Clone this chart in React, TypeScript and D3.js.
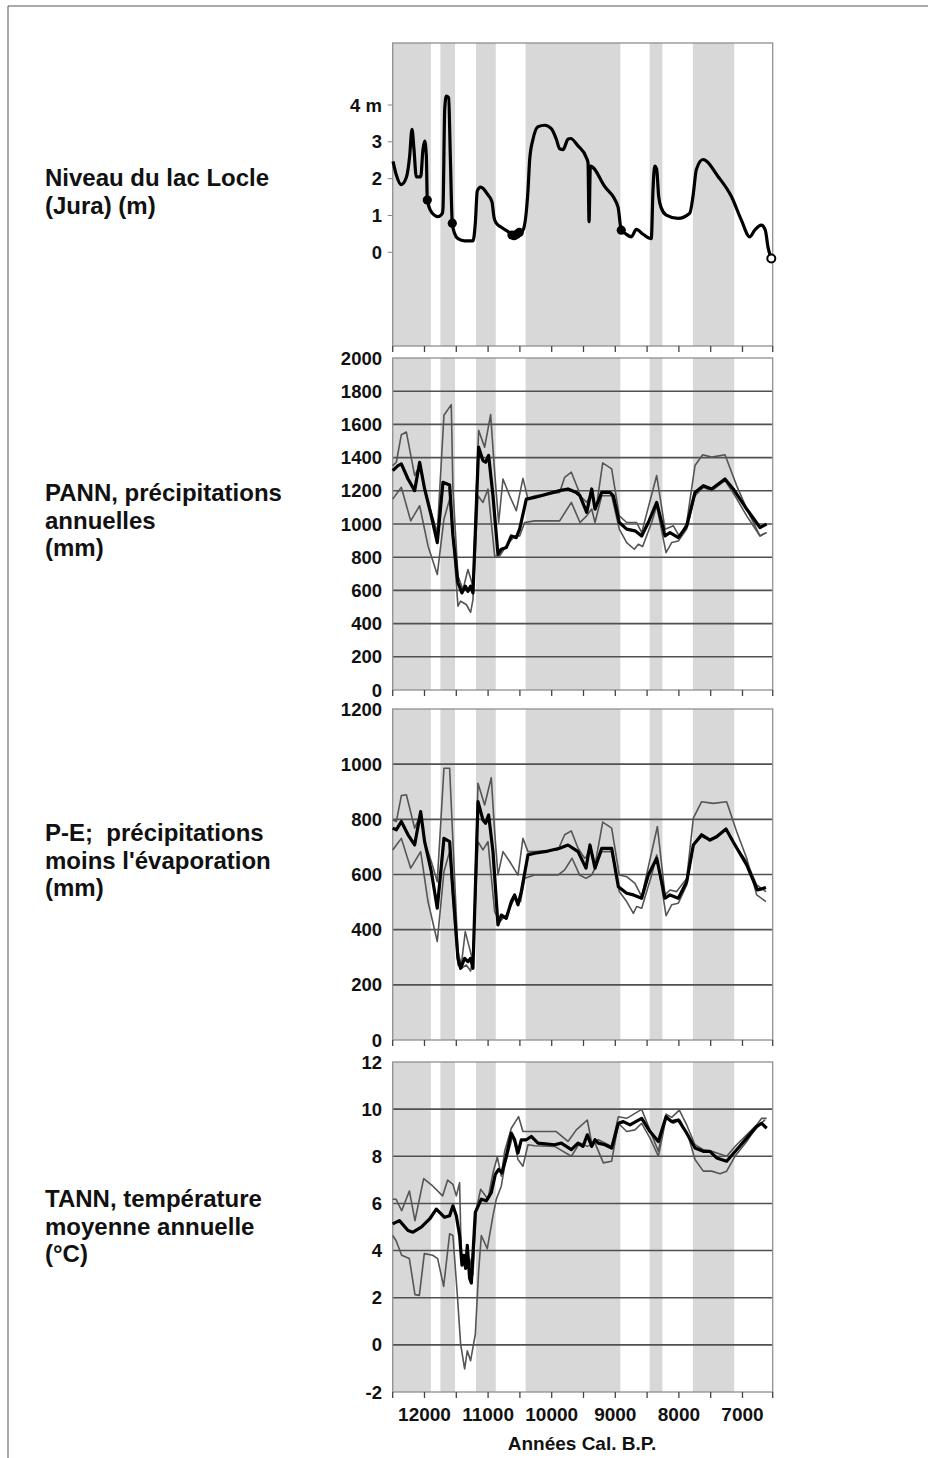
import React from 'react';
import * as d3 from 'd3';

// ---------- data ----------
const bandRanges: [number, number][] = [
  [12500, 11900], [11750, 11520], [11190, 10880], [10410, 8920], [8460, 8260], [7780, 7130],
];
const xTickLabels = [12000, 11000, 10000, 9000, 8000, 7000];
const xTickMinor = [12500, 12000, 11500, 11000, 10500, 10000, 9500, 9000, 8500, 8000, 7500, 7000, 6525];

const lakeTicks = [0, 1, 2, 3, 4];
const lakeTickLabels = ['0', '1', '2', '3', '4 m'];

const lakeLevel: [number, number][] = [
  [12495, 2.47], [12443, 2.1], [12365, 1.84], [12286, 2.03], [12233, 2.62], [12197, 3.34], [12165, 2.79],
  [12129, 2.05], [12060, 2.05], [12024, 2.79], [11997, 3.02], [11971, 2.61], [11956, 1.42], [11893, 1.1],
  [11788, 0.97], [11720, 1.06], [11709, 1.2], [11682, 3.89], [11657, 4.24], [11620, 4.2], [11594, 2.6],
  [11563, 0.79], [11526, 0.51], [11474, 0.37], [11369, 0.31], [11238, 0.31], [11201, 0.79], [11170, 1.67],
  [11117, 1.77], [11002, 1.56], [10939, 1.37], [10908, 0.96], [10871, 0.79], [10792, 0.68], [10687, 0.56],
  [10609, 0.47], [10530, 0.49], [10451, 0.6], [10372, 1.7], [10346, 2.52], [10294, 3.07], [10216, 3.41],
  [10110, 3.45], [10006, 3.36], [9927, 3.07], [9874, 2.81], [9822, 2.79], [9744, 3.07], [9702, 3.09],
  [9586, 2.89], [9455, 2.57], [9429, 2.43], [9413, 0.83], [9392, 2.34], [9167, 1.79], [8958, 1.24],
  [8906, 0.6], [8843, 0.51], [8748, 0.42], [8670, 0.62], [8564, 0.49], [8434, 0.37], [8407, 1.7],
  [8381, 2.34], [8349, 2.25], [8318, 1.52], [8276, 1.2], [8198, 1.01], [8014, 0.92], [7830, 1.06],
  [7778, 1.52], [7725, 2.25], [7621, 2.52], [7385, 2.06], [7176, 1.52], [7019, 0.88], [6887, 0.42],
  [6809, 0.6], [6704, 0.74], [6641, 0.6], [6599, 0.14], [6547, -0.17],
];
const lakeDots: [number, number][] = [
  [11956, 1.42], [11563, 0.79], [10625, 0.47], [10590, 0.45], [10550, 0.49], [10510, 0.54], [8906, 0.6],
];
const lakeEnd: [number, number] = [6547, -0.17];

// PANN (mm)
const pannTicks = [0, 200, 400, 600, 800, 1000, 1200, 1400, 1600, 1800, 2000];
const pannMean: [number, number][] = [
  [12500, 1322], [12416, 1352], [12364, 1362], [12259, 1271], [12155, 1201], [12076, 1372], [11998, 1211],
  [11893, 1049], [11799, 888], [11710, 1251], [11605, 1235], [11553, 928], [11474, 646], [11411, 585],
  [11359, 626], [11317, 595], [11275, 626], [11238, 585], [11149, 1463], [11081, 1382], [11039, 1372],
  [10992, 1413], [10923, 1170], [10845, 817], [10792, 848], [10714, 858], [10635, 928], [10557, 918],
  [10504, 969], [10399, 1150], [10268, 1160], [9875, 1201], [9744, 1211], [9613, 1190], [9555, 1170],
  [9450, 1070], [9371, 1211], [9319, 1090], [9214, 1190], [9083, 1190], [9031, 1170], [8937, 1009],
  [8821, 969], [8690, 959], [8585, 928], [8481, 1009], [8349, 1130], [8218, 928], [8140, 948],
  [8009, 918], [7877, 989], [7747, 1190], [7616, 1231], [7484, 1211], [7275, 1271], [7145, 1211],
  [6934, 1090], [6725, 979], [6620, 999],
];
const pannHigh: [number, number][] = [
  [12500, 1352], [12443, 1372], [12364, 1538], [12285, 1554], [12155, 1292], [12076, 1352], [11998, 1211],
  [11893, 1070], [11799, 948], [11694, 1655], [11579, 1719], [11553, 1211], [11474, 686], [11395, 605],
  [11317, 726], [11238, 626], [11149, 1564], [11054, 1463], [10960, 1659], [10897, 1312], [10834, 1009],
  [10766, 1271], [10661, 1170], [10557, 1080], [10452, 1275], [10373, 1150], [10268, 1170], [9875, 1190],
  [9796, 1281], [9691, 1312], [9586, 1211], [9555, 1170], [9450, 1130], [9371, 1190], [9302, 1090],
  [9198, 1368], [9057, 1332], [8937, 1049], [8821, 1009], [8664, 1009], [8585, 948], [8349, 1292],
  [8218, 969], [8087, 989], [7982, 918], [7877, 1009], [7747, 1352], [7626, 1417], [7484, 1403],
  [7275, 1417], [7092, 1231], [6908, 1070], [6725, 928], [6631, 948],
];
const pannLow: [number, number][] = [
  [12500, 1150], [12364, 1221], [12217, 1019], [12076, 1110], [11945, 868], [11799, 696], [11694, 1029],
  [11605, 1150], [11553, 928], [11474, 505], [11432, 535], [11343, 515], [11275, 468], [11238, 545],
  [11159, 1170], [11081, 1130], [11002, 1211], [10897, 807], [10818, 807], [10714, 868], [10583, 928],
  [10504, 928], [10425, 1009], [10268, 1019], [9875, 1019], [9691, 1130], [9555, 1009], [9450, 1049],
  [9371, 1090], [9319, 1009], [9214, 1170], [9057, 1170], [8937, 969], [8821, 888], [8700, 848],
  [8638, 878], [8570, 864], [8428, 1009], [8349, 1110], [8202, 827], [8113, 888], [8009, 898],
  [7877, 969], [7747, 1170], [7616, 1221], [7484, 1201], [7275, 1261], [7118, 1170], [6934, 1049],
  [6725, 928], [6620, 948],
];

// P-E (mm)
const peTicks = [0, 200, 400, 600, 800, 1000, 1200];
const peMean: [number, number][] = [
  [12500, 768], [12443, 762], [12364, 792], [12259, 744], [12155, 707], [12060, 828], [11998, 719],
  [11893, 611], [11799, 478], [11694, 731], [11605, 719], [11553, 538], [11474, 296], [11432, 260],
  [11369, 296], [11317, 284], [11275, 296], [11238, 260], [11159, 864], [11081, 798], [11039, 786],
  [10992, 816], [10923, 683], [10845, 417], [10792, 453], [10714, 441], [10635, 502], [10583, 526],
  [10530, 490], [10478, 538], [10373, 671], [10268, 677], [10059, 685], [9875, 695], [9744, 707],
  [9586, 683], [9461, 623], [9398, 707], [9319, 623], [9214, 695], [9057, 695], [8952, 556],
  [8821, 532], [8716, 526], [8585, 514], [8481, 598], [8349, 659], [8218, 514], [8140, 526],
  [8009, 514], [7877, 574], [7773, 707], [7642, 744], [7511, 725], [7406, 737], [7259, 765],
  [7118, 707], [6934, 635], [6767, 544], [6699, 548], [6631, 553],
];
const peHigh: [number, number][] = [
  [12500, 798], [12443, 792], [12364, 886], [12285, 889], [12155, 768], [12060, 816], [11998, 719],
  [11893, 647], [11799, 574], [11694, 985], [11605, 985], [11553, 719], [11474, 320], [11421, 272],
  [11359, 393], [11291, 332], [11238, 284], [11159, 931], [11054, 852], [10950, 951], [10897, 756],
  [10845, 598], [10766, 683], [10661, 647], [10530, 598], [10452, 731], [10373, 683], [10268, 683],
  [9901, 689], [9796, 744], [9691, 758], [9586, 695], [9482, 659], [9450, 665], [9398, 707],
  [9319, 635], [9198, 790], [9057, 768], [8937, 598], [8821, 592], [8690, 568], [8585, 520],
  [8338, 774], [8218, 526], [8140, 544], [8035, 538], [7877, 586], [7773, 804], [7642, 864],
  [7459, 858], [7249, 864], [7092, 756], [6934, 659], [6777, 526], [6631, 502],
];
const peLow: [number, number][] = [
  [12500, 689], [12364, 731], [12217, 623], [12060, 683], [11945, 502], [11799, 357], [11694, 611],
  [11605, 683], [11553, 514], [11474, 272], [11421, 260], [11343, 272], [11275, 250], [11238, 296],
  [11159, 719], [11081, 689], [11002, 719], [10897, 465], [10818, 429], [10714, 453], [10583, 514],
  [10489, 502], [10425, 586], [10268, 598], [9901, 598], [9796, 617], [9680, 659], [9560, 598],
  [9461, 586], [9371, 598], [9319, 623], [9214, 683], [9057, 683], [8937, 538], [8821, 502],
  [8716, 459], [8664, 484], [8585, 478], [8428, 598], [8349, 671], [8202, 451], [8113, 490],
  [8009, 496], [7877, 562], [7773, 707], [7642, 737], [7511, 725], [7259, 762], [7118, 707],
  [6934, 647], [6777, 562], [6631, 538],
];

// TANN (°C)
const tannTicks = [-2, 0, 2, 4, 6, 8, 10, 12];
const tannMean: [number, number][] = [
  [12500, 5.13], [12395, 5.27], [12259, 4.85], [12181, 4.78], [12050, 4.99], [11919, 5.34], [11814, 5.76],
  [11684, 5.41], [11605, 5.48], [11553, 5.9], [11500, 5.48], [11448, 4.64], [11411, 3.38], [11380, 3.8],
  [11353, 3.24], [11327, 4.22], [11291, 2.83], [11264, 2.62], [11201, 5.62], [11107, 6.18], [11028, 6.11],
  [10950, 6.46], [10887, 7.23], [10834, 7.44], [10782, 7.3], [10714, 8.0], [10635, 8.98], [10583, 8.7],
  [10530, 8.14], [10478, 8.7], [10399, 8.7], [10321, 8.84], [10216, 8.56], [9954, 8.49], [9849, 8.56],
  [9691, 8.28], [9586, 8.56], [9508, 8.42], [9440, 8.91], [9371, 8.42], [9319, 8.7], [9267, 8.56],
  [9162, 8.49], [9057, 8.35], [8952, 9.4], [8874, 9.47], [8769, 9.33], [8585, 9.61], [8454, 9.05],
  [8323, 8.63], [8202, 9.68], [8113, 9.47], [8009, 9.54], [7877, 8.98], [7747, 8.35], [7616, 8.21],
  [7511, 8.21], [7406, 7.93], [7249, 7.79], [7092, 8.28], [6934, 8.77], [6777, 9.26], [6699, 9.4],
  [6620, 9.19],
];
const tannHigh: [number, number][] = [
  [12500, 6.18], [12448, 6.18], [12359, 5.69], [12238, 6.53], [12150, 5.27], [12013, 7.05], [11872, 6.74],
  [11715, 6.32], [11636, 6.99], [11553, 6.81], [11500, 6.32], [11448, 6.88], [11421, 3.66], [11343, 3.52],
  [11291, 3.66], [11238, 2.97], [11185, 5.76], [11117, 6.6], [11002, 6.18], [10923, 7.3], [10855, 7.97],
  [10792, 7.16], [10740, 8.21], [10635, 9.19], [10520, 9.68], [10452, 9.05], [10321, 9.05], [9928, 9.05],
  [9744, 8.63], [9613, 9.12], [9440, 9.54], [9371, 8.56], [9267, 8.7], [9057, 8.42], [8952, 9.68],
  [8821, 9.61], [8585, 9.99], [8323, 8.21], [8202, 9.79], [8113, 9.65], [7993, 9.96], [7877, 9.33],
  [7747, 8.49], [7616, 8.28], [7484, 8.21], [7249, 8.0], [7092, 8.49], [6934, 8.91], [6777, 9.33],
  [6699, 9.61], [6620, 9.61],
];
const tannLow: [number, number][] = [
  [12500, 4.64], [12448, 4.43], [12359, 3.8], [12238, 3.66], [12150, 2.13], [12081, 2.1], [12003, 3.87],
  [11872, 3.8], [11793, 3.66], [11699, 2.48], [11605, 4.71], [11553, 4.64], [11484, 2.13], [11432, 0.03],
  [11369, -1.02], [11327, -0.25], [11275, -0.67], [11201, 0.45], [11149, 3.1], [11107, 4.64], [11013, 4.08],
  [10923, 5.48], [10871, 6.18], [10792, 6.74], [10740, 7.58], [10609, 8.91], [10530, 7.86], [10452, 7.58],
  [10373, 8.49], [10268, 8.45], [9954, 8.42], [9691, 8.0], [9560, 8.56], [9440, 8.42], [9319, 8.56],
  [9188, 7.72], [9057, 7.79], [8952, 9.4], [8821, 9.05], [8690, 9.12], [8585, 9.4], [8454, 8.77],
  [8323, 8.0], [8202, 9.61], [8087, 9.4], [7982, 9.54], [7851, 8.84], [7747, 7.86], [7616, 7.37],
  [7484, 7.37], [7353, 7.26], [7249, 7.37], [7118, 8.0], [6934, 8.63], [6777, 9.26], [6646, 9.54],
];

const leftLabels: { lines: string[]; y: number }[] = [
  { lines: ['Niveau du lac Locle', '(Jura) (m)'], y: 186 },
  { lines: ['PANN, précipitations', 'annuelles', '(mm)'], y: 501 },
  { lines: ['P-E;  précipitations', "moins l'évaporation", '(mm)'], y: 841 },
  { lines: ['TANN, température', 'moyenne annuelle', '(°C)'], y: 1207 },
];

// ---------- layout ----------
const W = 928;
const H = 1458;
const X0 = 392.7;
const X1 = 772.7;
const FONT = "'Liberation Sans', Arial, Helvetica, sans-serif";
const BAND = '#d8d8d8';
const GRID = '#505050';
const THIN = '#555555';

const x = d3.scaleLinear().domain([12500, 6525]).range([X0, X1]);

type Panel = {
  top: number;
  bottom: number;
  y: d3.ScaleLinear<number, number>;
  ticks: number[];
  grid: number[];
  series?: { data: [number, number][]; thick: boolean }[];
};

const panels: Panel[] = [
  { top: 43, bottom: 346, y: d3.scaleLinear().domain([0, 4]).range([252.3, 105]), ticks: [], grid: [] },
  {
    top: 358, bottom: 690, y: d3.scaleLinear().domain([0, 2000]).range([690, 358]),
    ticks: pannTicks, grid: pannTicks.slice(1, -1),
    series: [{ data: pannHigh, thick: false }, { data: pannLow, thick: false }, { data: pannMean, thick: true }],
  },
  {
    top: 709, bottom: 1040, y: d3.scaleLinear().domain([0, 1200]).range([1040, 709]),
    ticks: peTicks, grid: peTicks.slice(1, -1),
    series: [{ data: peHigh, thick: false }, { data: peLow, thick: false }, { data: peMean, thick: true }],
  },
  {
    top: 1062, bottom: 1392, y: d3.scaleLinear().domain([-2, 12]).range([1392, 1062]),
    ticks: tannTicks, grid: tannTicks.slice(1, -1),
    series: [{ data: tannHigh, thick: false }, { data: tannLow, thick: false }, { data: tannMean, thick: true }],
  },
];

export default function App() {
  const lakeY = panels[0].y;
  const lakeLine = d3
    .line<[number, number]>()
    .x((d) => x(d[0]))
    .y((d) => lakeY(d[1]))
    .curve(d3.curveMonotoneX);

  return (
    <svg
      width={W}
      height={H}
      viewBox={`0 0 ${W} ${H}`}
      style={{ position: 'absolute', left: 0, top: 0, background: '#fff' }}
      fontFamily={FONT}
    >
      <rect x={0} y={0} width={W} height={H} fill="#fff" />
      {/* outer frame */}
      <line x1={8} y1={6} x2={W} y2={6} stroke="#555" strokeWidth={1} />
      <line x1={8} y1={6} x2={8} y2={H} stroke="#555" strokeWidth={1} />

      {panels.map((p, i) => {
        const line = d3
          .line<[number, number]>()
          .x((d) => x(d[0]))
          .y((d) => p.y(d[1]));
        return (
          <g key={i}>
            <rect x={X0} y={p.top} width={X1 - X0} height={p.bottom - p.top} fill="#fff" />
            {bandRanges.map(([a, b], j) => (
              <rect key={j} x={x(a)} y={p.top} width={x(b) - x(a)} height={p.bottom - p.top} fill={BAND} />
            ))}
            {p.grid.map((v) => (
              <line key={v} x1={X0} x2={X1} y1={p.y(v)} y2={p.y(v)} stroke={GRID} strokeWidth={1.6} />
            ))}
            <rect x={X0} y={p.top} width={X1 - X0} height={p.bottom - p.top} fill="none" stroke="#909090" strokeWidth={1.3} />
            {xTickMinor.map((t) => (
              <line key={t} x1={x(t)} x2={x(t)} y1={p.bottom} y2={p.bottom + 6} stroke="#444" strokeWidth={1.3} />
            ))}
            {p.ticks.map((v) => (
              <text key={v} x={382} y={p.y(v) + 6.5} textAnchor="end" fontSize={18.5} fontWeight="bold" fill="#111">
                {v}
              </text>
            ))}
            {p.series &&
              p.series.map((s, k) => (
                <path
                  key={k}
                  d={line(s.data) || ''}
                  fill="none"
                  stroke={s.thick ? '#000' : THIN}
                  strokeWidth={s.thick ? 3.2 : 1.6}
                  strokeLinejoin="round"
                />
              ))}
          </g>
        );
      })}

      {/* lake level panel */}
      {lakeTicks.map((v, i) => (
        <g key={v}>
          <line x1={X0 - 5} x2={X0} y1={lakeY(v)} y2={lakeY(v)} stroke="#888" strokeWidth={1} />
          <text x={382} y={lakeY(v) + 6.5} textAnchor="end" fontSize={18.5} fontWeight="bold" fill="#111">
            {lakeTickLabels[i]}
          </text>
        </g>
      ))}
      <path d={lakeLine(lakeLevel) || ''} fill="none" stroke="#000" strokeWidth={3.2} strokeLinejoin="round" />
      {lakeDots.map((d, i) => (
        <circle key={i} cx={x(d[0])} cy={lakeY(d[1])} r={4.6} fill="#000" />
      ))}
      <circle cx={x(lakeEnd[0])} cy={lakeY(lakeEnd[1])} r={4} fill="#fff" stroke="#000" strokeWidth={2} />

      {/* x axis labels */}
      {xTickLabels.map((t) => (
        <text key={t} x={x(t)} y={1421} textAnchor="middle" fontSize={19} fontWeight="bold" fill="#111">
          {t}
        </text>
      ))}
      <text x={582} y={1450} textAnchor="middle" fontSize={19} fontWeight="bold" fill="#111">
        Années Cal. B.P.
      </text>

      {/* left labels */}
      {leftLabels.map((l, i) => (
        <text key={i} x={45} y={l.y} fontSize={24} fontWeight="bold" fill="#111" style={{ whiteSpace: 'pre' }}>
          {l.lines.map((s, k) => (
            <tspan key={k} x={45} dy={k === 0 ? 0 : 27.5}>
              {s}
            </tspan>
          ))}
        </text>
      ))}
    </svg>
  );
}
